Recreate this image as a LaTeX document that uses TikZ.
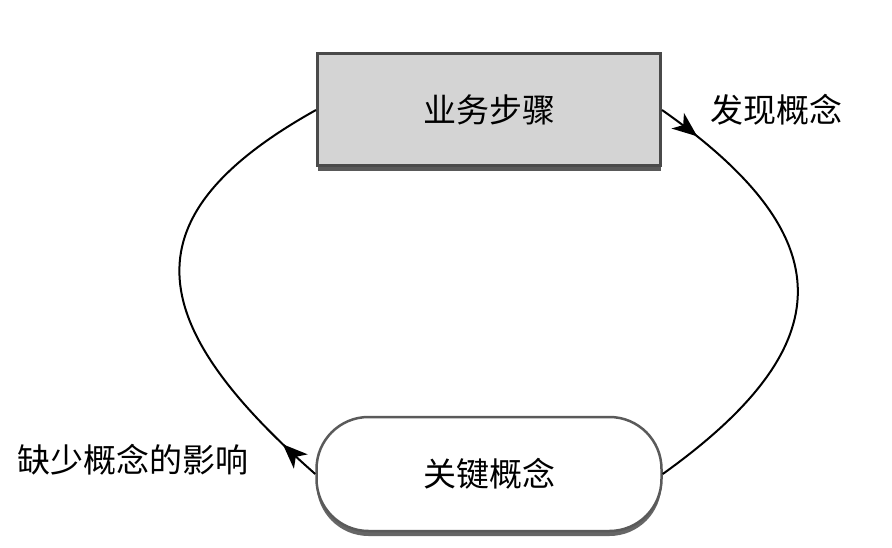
\documentclass[tikz,border=0pt]{standalone}
\usepackage{fontspec}
\setmainfont{Noto Sans CJK SC}
\usetikzlibrary{arrows.meta,decorations.markings,shadows}
\definecolor{boxfill}{HTML}{D4D4D4}
\definecolor{boxline}{HTML}{4A4A4A}
\definecolor{pillline}{HTML}{5A5A5A}
\tikzset{
  stepbox/.style={draw=boxline, line width=3pt, fill=boxfill, minimum width=343pt, minimum height=112pt,
    font=\fontsize{33pt}{38pt}\selectfont, inner sep=0pt,
    drop shadow={shadow xshift=0pt, shadow yshift=-5pt, fill=black!65, opacity=1}},
  pillbox/.style={draw=pillline, line width=2.5pt, fill=white, rounded corners=52pt, minimum width=345pt, minimum height=114pt,
    font=\fontsize{33pt}{38pt}\selectfont, inner sep=0pt,
    drop shadow={shadow xshift=0pt, shadow yshift=-5pt, fill=black!60, opacity=1}},
  lbl/.style={font=\fontsize{33pt}{38pt}\selectfont, inner sep=0pt},
  flow/.style={line width=2pt, postaction={decorate}, decoration={markings,
    mark=at position 44pt with {\fill[black] (-25pt,-10pt) -- (0pt,0pt) -- (-25pt,10pt) -- (-18pt,0pt) -- cycle;}}}
}
\begin{document}
\begin{tikzpicture}[x=1pt,y=-1pt]
\useasboundingbox (0,0) rectangle (892,548);
\node[stepbox] (bs) at (489,110) {业务步骤};
\node[pillbox] (kc) at (489,474) {关键概念};
\node[lbl] (fx) at (776,110) {发现概念};
\node[lbl] (qs) at (133,460) {缺少概念的影响};
\draw[flow] (bs.east) .. controls (843,237) and (843,345) .. (kc.east);
\draw[flow] (kc.west) .. controls (140,320) and (128,215) .. (bs.west);
\end{tikzpicture}
\end{document}
